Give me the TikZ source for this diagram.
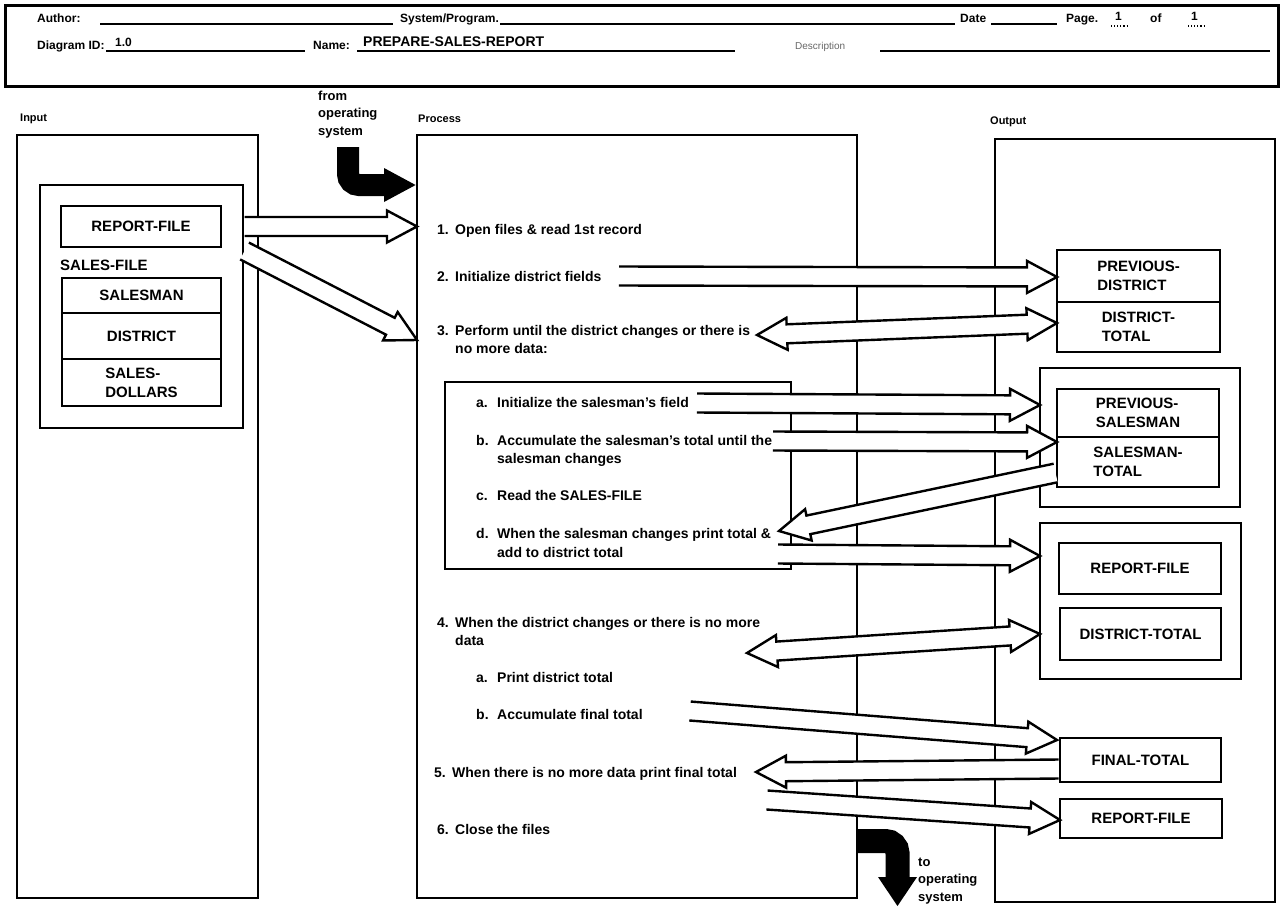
\documentclass[tikz,border=0pt]{standalone}
\usepackage{fontspec}
\setmainfont{Liberation Sans}
\usetikzlibrary{calc}
\newcommand\faW{9.5pt}
\newcommand\faH{16pt}
\newcommand\faL{30pt}
\newcommand\fatarrow[2]{%
  \coordinate (fabase) at ($(#2)!\faL!(#1)$);
  \filldraw[fat] ($(#1)!\faW!90:(#2)$) -- ($(fabase)!\faW!90:(#2)$) -- ($(fabase)!\faH!90:(#2)$) -- (#2) -- ($(fabase)!\faH!-90:(#2)$) -- ($(fabase)!\faW!-90:(#2)$) -- ($(#1)!\faW!-90:(#2)$);
}
\newcommand\fatdarrow[2]{%
  \coordinate (fba) at ($(#1)!\faL!(#2)$);
  \coordinate (fbb) at ($(#2)!\faL!(#1)$);
  \filldraw[fat] (#1) -- ($(fba)!\faH!90:(#2)$) -- ($(fba)!\faW!90:(#2)$) -- ($(fbb)!\faW!-90:(#1)$) -- ($(fbb)!\faH!-90:(#1)$) -- (#2) -- ($(fbb)!\faH!90:(#1)$) -- ($(fbb)!\faW!90:(#1)$) -- ($(fba)!\faW!-90:(#2)$) -- ($(fba)!\faH!-90:(#2)$) -- cycle;
}
\tikzset{
  hdr/.style={anchor=base west, inner sep=0pt, font=\fontsize{12}{14}\selectfont\bfseries},
  ptxt/.style={anchor=base west, inner sep=0pt, font=\fontsize{14}{18}\selectfont\bfseries},
  lbl/.style={anchor=base west, inner sep=0pt, font=\fontsize{11}{13}\selectfont\bfseries},
  ostxt/.style={anchor=base west, inner sep=0pt, align=left, font=\fontsize{13}{17.5}\selectfont\bfseries},
  fld/.style={draw, line width=2.4pt, inner sep=0pt, align=left, font=\fontsize{15}{19}\selectfont\bfseries},
  frame/.style={draw, line width=2.8pt, inner sep=0pt},
  fat/.style={draw, fill=white, line width=2.4pt, line join=miter},
  uline/.style={line width=1.1pt},
  osbar/.style={line width=22pt},
}
\begin{document}
\begin{tikzpicture}[x=1pt,y=-1pt]
\useasboundingbox (0,0) rectangle (1281,908);

% ---------- header ----------
\draw[line width=3pt] (5,5) rectangle (1278,86);
\node[hdr] (author) at (37,22) {Author:};
\draw[uline] (100,24) -- (393,24);
\node[hdr] (sysprog) at (400,22) {System/Program.};
\draw[uline] (500,24) -- (955,24);
\node[hdr] (date) at (960,22) {Date};
\draw[uline] (991,24) -- (1057,24);
\node[hdr] (page) at (1066,22) {Page.};
\node[hdr] (pg1) at (1115,20) {1};
\draw[uline, dotted] (1111,26) -- (1127,26);
\node[hdr] (of) at (1150,22) {of};
\node[hdr] (pg2) at (1191,20) {1};
\draw[uline, dotted] (1188,26) -- (1206,26);

\node[hdr] (diagid) at (37,49) {Diagram ID:};
\draw[uline] (106,51) -- (305,51);
\node[hdr] (idval) at (115,46) {1.0};
\node[hdr] (name) at (313,49) {Name:};
\draw[uline] (357,51) -- (735,51);
\node[hdr, font=\fontsize{14}{16}\selectfont\bfseries] (nameval) at (363,46) {PREPARE-SALES-REPORT};
\node[anchor=base west, inner sep=0pt, font=\fontsize{10}{12}\selectfont, text=black!60] (desc) at (795,49) {Description};
\draw[uline] (880,51) -- (1270,51);

% ---------- column labels ----------
\node[lbl] (linput) at (20,121) {Input};
\node[lbl] (lproc) at (418,122) {Process};
\node[lbl] (lout) at (990,124) {Output};
\node[ostxt] (fromos) at (318,135) {from\\operating\\system};
\node[ostxt] (toos) at (918,901) {to\\operating\\system};

% ---------- frames ----------
\node[frame, minimum width=241pt, minimum height=763pt] (inbox) at (137.5,516.5) {};
\node[frame, minimum width=440pt, minimum height=763pt] (procbox) at (637,516.5) {};
\node[frame, minimum width=280pt, minimum height=763pt] (outbox) at (1135,520.5) {};

% input side
\node[frame, minimum width=203pt, minimum height=243pt] (ingroup) at (141.5,306.5) {};
\node[fld, minimum width=160pt, minimum height=41pt] (inrf) at (141,226.5) {REPORT-FILE};
\node[anchor=base west, inner sep=0pt, font=\fontsize{15}{19}\selectfont\bfseries] (salesfile) at (60,270) {SALES-FILE};
\node[fld, minimum width=159pt, minimum height=35pt] (salesman) at (141.5,295.5) {SALESMAN};
\node[fld, minimum width=159pt, minimum height=46pt] (district) at (141.5,336) {DISTRICT};
\node[fld, minimum width=159pt, minimum height=47pt] (dollars) at (141.5,382.5) {SALES-\\DOLLARS};

% process sub box
\node[frame, line width=2.6pt, minimum width=346pt, minimum height=187pt] (subbox) at (618,475.5) {};

% output side
\node[fld, minimum width=163pt, minimum height=52pt] (prevdist) at (1138.5,276) {PREVIOUS-\\DISTRICT};
\node[fld, minimum width=163pt, minimum height=50pt] (disttot) at (1138.5,327) {DISTRICT-\\TOTAL};
\node[frame, line width=2.6pt, minimum width=200pt, minimum height=139pt] (grp2) at (1140,437.5) {};
\node[fld, minimum width=162pt, minimum height=48pt] (prevsm) at (1138,413) {PREVIOUS-\\SALESMAN};
\node[fld, minimum width=162pt, minimum height=50pt] (smtot) at (1138,462) {SALESMAN-\\TOTAL};
\node[frame, line width=2.6pt, minimum width=201pt, minimum height=156pt] (grp3) at (1140.5,601) {};
\node[fld, minimum width=162pt, minimum height=51pt] (outrf) at (1140,568.5) {REPORT-FILE};
\node[fld, minimum width=161pt, minimum height=52pt] (outdt) at (1140.5,634) {DISTRICT-TOTAL};
\node[fld, minimum width=161pt, minimum height=44pt] (finaltot) at (1140.5,760) {FINAL-TOTAL};
\node[fld, minimum width=162pt, minimum height=39pt] (outrf2) at (1141,818.5) {REPORT-FILE};

% ---------- operating system arrows ----------
\coordinate (osin1) at (348,147);
\coordinate (osin2) at (348,185);
\coordinate (osin3) at (386,185);
\draw[osbar, rounded corners=11pt] (osin1) -- (osin2) -- (osin3);
\fill (384,168) -- (procbox.west |- osin3) -- (384,202) -- cycle;

\coordinate (osout1) at (857,841);
\coordinate (osout2) at (897.5,841);
\coordinate (osout3) at (897.5,878);
\draw[line width=24pt, rounded corners=12pt] (osout1) -- (osout2) -- (osout3);
\fill (878,877) -- (917,877) -- (897.5,906) -- cycle;

% ---------- data flow arrows ----------
\coordinate (a1s) at (244.5,226.5);  \coordinate (a1t) at (417,226.5);
\coordinate (a2s) at (244.5,251);    \coordinate (a2t) at (417,340);
\coordinate (a3s) at (619,276);      \coordinate (a3t) at (1057,277);
\coordinate (a4s) at (757,335);      \coordinate (a4t) at (1057,323);
\coordinate (a5s) at (697,403);      \coordinate (a5t) at (1040,405);
\coordinate (a6s) at (773,441);      \coordinate (a6t) at (1057,442);
\coordinate (a7s) at (1055.6,473);   \coordinate (a7t) at (779,531);
\coordinate (a8s) at (778,554);      \coordinate (a8t) at (1040,556);
\coordinate (a9s) at (747,653);      \coordinate (a9t) at (1040,634);
\coordinate (a10s) at (690,711);     \coordinate (a10t) at (1057,740);
\coordinate (a11s) at (1058.6,769);  \coordinate (a11t) at (756,772);
\coordinate (a12s) at (767,800);     \coordinate (a12t) at (1060,820);

\fatarrow{a1s}{a1t}
\fatarrow{a2s}{a2t}
\fatarrow{a3s}{a3t}
\fatdarrow{a4s}{a4t}
\fatarrow{a5s}{a5t}
\fatarrow{a6s}{a6t}
\fatarrow{a7s}{a7t}
\fatarrow{a8s}{a8t}
\fatdarrow{a9s}{a9t}
\fatarrow{a10s}{a10t}
\fatarrow{a11s}{a11t}
\fatarrow{a12s}{a12t}

% ---------- process text ----------
\node[ptxt] (s1) at (437,234) {\makebox[18pt][l]{1.}Open files \& read 1st record};
\node[ptxt] (s2) at (437,281) {\makebox[18pt][l]{2.}Initialize district fields};
\node[ptxt] (s3) at (437,335) {\makebox[18pt][l]{3.}Perform until the district changes or there is};
\node[ptxt] (s3b) at (455,353) {no more data:};
\node[ptxt] (s3a) at (476,407) {\makebox[21pt][l]{a.}Initialize the salesman’s field};
\node[ptxt] (s3bb) at (476,445) {\makebox[21pt][l]{b.}Accumulate the salesman’s total until the};
\node[ptxt] (s3bc) at (497,463) {salesman changes};
\node[ptxt] (s3c) at (476,500) {\makebox[21pt][l]{c.}Read the SALES-FILE};
\node[ptxt] (s3d) at (476,538) {\makebox[21pt][l]{d.}When the salesman changes print total \&};
\node[ptxt] (s3dc) at (497,557) {add to district total};
\node[ptxt] (s4) at (437,627) {\makebox[18pt][l]{4.}When the district changes or there is no more};
\node[ptxt] (s4c) at (455,645) {data};
\node[ptxt] (s4a) at (476,682) {\makebox[21pt][l]{a.}Print district total};
\node[ptxt] (s4b) at (476,719) {\makebox[21pt][l]{b.}Accumulate final total};
\node[ptxt] (s5) at (434,777) {\makebox[18pt][l]{5.}When there is no more data print final total};
\node[ptxt] (s6) at (437,834) {\makebox[18pt][l]{6.}Close the files};
\end{tikzpicture}
\end{document}
